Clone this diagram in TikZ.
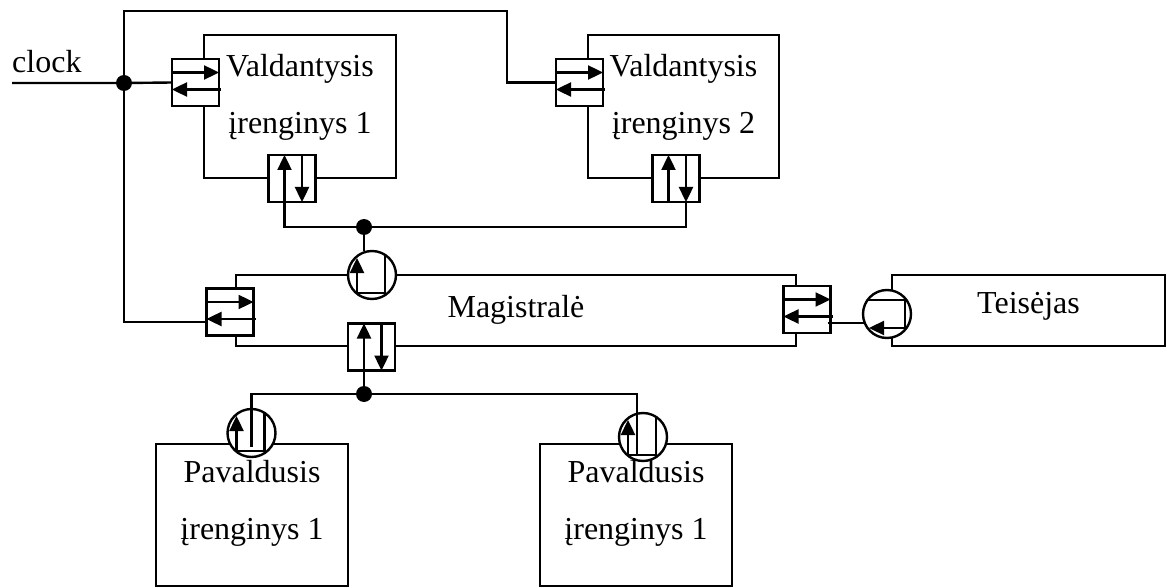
\documentclass[tikz,border=0pt]{standalone}
\usepackage{fontspec}
\setmainfont{Liberation Serif}
\usetikzlibrary{arrows.meta,calc}

\tikzset{
  devbox/.style={draw, rectangle, outer sep=0pt, inner sep=0pt},
  portbox/.style={draw, fill=white, rectangle, minimum width=47pt, minimum height=47pt, outer sep=0pt, inner sep=0pt},
  arbcircle/.style={draw, fill=white, circle, minimum size=48pt, outer sep=0pt, inner sep=0pt},
  junction/.style={circle, fill=black, inner sep=0pt, minimum size=16pt},
  sig/.style={-{Triangle[length=15pt,width=14pt]}},
  txt/.style={font=\fontsize{32}{57}\selectfont, align=center, inner sep=0pt},
}

% two opposed horizontal arrows inside a port
\newcommand\hportarrows[1]{%
  \draw[sig] ([yshift=10pt]#1.west) -- ([yshift=10pt]#1.east);
  \draw[sig] ([xshift=2pt,yshift=-7pt]#1.east) -- ([yshift=-7pt]#1.west);}
% two opposed vertical arrows inside a port
\newcommand\vportarrows[1]{%
  \draw[sig] ([xshift=-7.5pt]#1.south) -- ([xshift=-7.5pt]#1.north);
  \draw[sig] ([xshift=10pt]#1.north) -- ([xshift=10pt]#1.south);}
% request/grant symbol inside an arbitration circle
\newcommand\arbup[1]{%
  \draw[sig] ($(#1)+(13,-20)$) -- ($(#1)+(13,18)$) -- ($(#1)+(-15,18)$) -- ($(#1)+(-15,-17)$);}
\newcommand\arbleft[1]{%
  \draw[sig] ($(#1)+(-19.5,-14)$) -- ($(#1)+(18,-14)$) -- ($(#1)+(18,14)$) -- ($(#1)+(-18,14)$);}

\begin{document}
\begin{tikzpicture}[x=1pt, y=-1pt, line width=2.4pt]
\useasboundingbox (0,0) rectangle (1167,588);

% device boxes
\node[devbox, minimum width=192pt, minimum height=143pt] (V1) at (300,106.5) {};
\node[devbox, minimum width=191pt, minimum height=143pt] (V2) at (683.5,106.5) {};
\node[devbox, minimum width=560pt, minimum height=71pt] (M) at (516,310.5) {};
\node[devbox, minimum width=273pt, minimum height=71pt] (T) at (1028.5,310.5) {};
\node[devbox, minimum width=192pt, minimum height=142pt] (P1) at (252,515) {};
\node[devbox, minimum width=192pt, minimum height=142pt] (P2) at (636,515) {};

% junctions and free ends
\coordinate (clk) at (12,83);
\coordinate (J1) at (124,83);
\coordinate (tr) at (507,11);
\coordinate (J2) at (364,227);
\coordinate (J3) at (364,394);

% ports
\node[portbox] (V1L) at (195.5,82.5) {};
\node[portbox] (V1B) at (292,178.5) {};
\node[portbox] (V2L) at (579.5,82.5) {};
\node[portbox] (V2B) at (676,178.5) {};
\node[portbox] (ML) at (230,312) {};
\node[portbox] (MB) at (371.5,347) {};
\node[portbox] (MR) at (807,309.5) {};

% arbitration circles
\node[arbcircle] (C1) at (372,275) {};
\node[arbcircle] (CT) at (887,314) {};
\node[arbcircle] (CP1) at (251.5,433) {};
\node[arbcircle] (CP2) at (643,437) {};

% clock and control wiring
\draw (clk) -- (J1) -- (V1L.west);
\draw (J1) |- (tr) |- (V2L.west);
\draw (J1) |- ([yshift=-10pt]ML.west);

% master data bus wiring
\draw ([xshift=-7.5pt]V1B.south) |- (J2);
\draw (J2) -| ([xshift=10pt]V2B.south);
\draw (J2) -- (J2 |- C1.north);

% slave wiring
\draw ([xshift=-7.5pt]MB.south) -- (J3);
\draw (J3) -| ([yshift=-14pt]CP1.center);
\draw (J3) -| ([xshift=-6pt,yshift=-18pt]CP2.center);

% arbiter wiring
\draw ([xshift=-3pt,yshift=-13.5pt]MR.east) -- ($(CT.center)+(-22.3,9)$);

% port and circle symbols
\hportarrows{V1L}
\hportarrows{V2L}
\hportarrows{ML}
\hportarrows{MR}
\vportarrows{V1B}
\vportarrows{V2B}
\vportarrows{MB}
\arbup{C1}
\arbup{CP1}
\arbup{CP2}
\arbleft{CT}

% junction dots
\node[junction] (D1) at (J1) {};
\node[junction] (D2) at (J2) {};
\node[junction] (D3) at (J3) {};

% texts
\node[txt, anchor=base west] (tclk) at (11,73) {clock};
\node[txt] (tV1) at (300,97) {Valdantysis\\įrenginys 1};
\node[txt] (tV2) at (683.5,97) {Valdantysis\\įrenginys 2};
\node[txt, anchor=base] (tM) at (516,317) {Magistralė};
\node[txt, anchor=base] (tT) at (1028.5,313) {Teisėjas};
\node[txt] (tP1) at (252,503) {Pavaldusis\\įrenginys 1};
\node[txt] (tP2) at (636,503) {Pavaldusis\\įrenginys 1};
\end{tikzpicture}
\end{document}
